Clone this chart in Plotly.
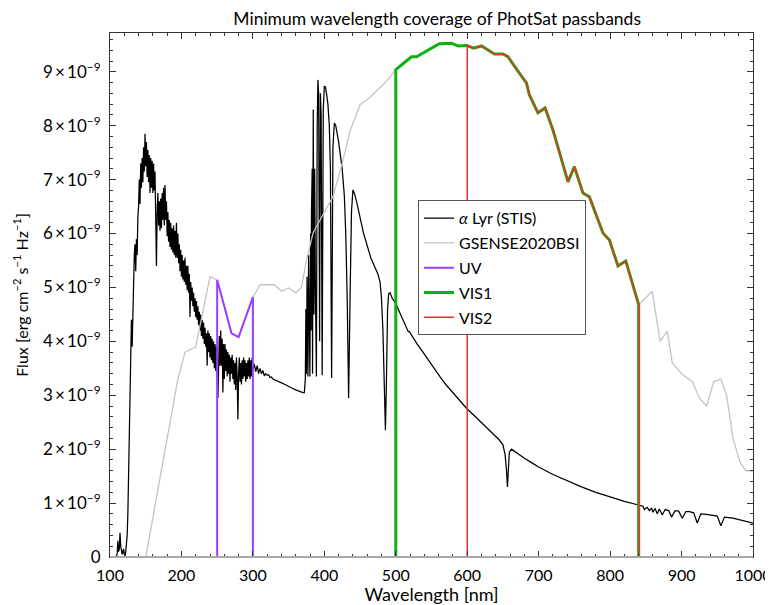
import numpy as np
import plotly.graph_objects as go

# ---------------- data (flux in units of 1e-9 erg cm^-2 s^-1 Hz^-1) ----------------
lyr_wl = [
    108, 110, 111, 112, 113, 114, 115, 116, 117, 118, 119, 120, 121, 122, 123, 124, 125, 126, 127, 128,
    129, 130, 131, 132, 133, 134, 135, 136, 137, 138, 139, 140, 141, 142, 143, 144, 145, 146, 147, 148,
    149, 150, 151, 152, 153, 154, 155, 156, 157, 158, 159, 160, 161, 162, 163, 164, 165, 166, 167, 168,
    169, 170, 171, 172, 173, 174, 175, 176, 177, 178, 179, 180, 181, 182, 183, 184, 185, 186, 187, 188,
    189, 190, 191, 192, 193, 194, 195, 196, 197, 198, 199, 200, 201, 202, 203, 204, 205, 206, 207, 208,
    209, 210, 211, 212, 213, 214, 215, 216, 217, 218, 219, 220, 221, 222, 223, 224, 225, 226, 227, 228,
    229, 230, 231, 232, 233, 234, 235, 236, 237, 238, 239, 240, 241, 242, 243, 244, 245, 246, 247, 248,
    249, 250, 251, 252, 253, 254, 255, 256, 257, 258, 259, 260, 261, 262, 263, 264, 265, 266, 267, 268,
    269, 270, 271, 272, 273, 274, 275, 276, 277, 278, 279, 280, 281, 282, 283, 284, 285, 286, 287, 288,
    289, 290, 291, 292, 293, 294, 295, 296, 297, 298, 299, 300, 302, 304, 306, 308, 310, 312, 314, 316,
    318, 320, 322, 324, 326, 328, 330, 335, 340, 345, 350, 355, 360, 365, 370, 372,
    373.4, 374.2, 375.0, 375.8, 376.5, 377.1, 378.0, 378.8, 379.8, 380.8, 381.5, 382.0, 383.0, 383.5, 384.5, 385.5,
    386.5, 387.5, 388.9, 390, 391, 392, 393.4, 394.5, 395.5, 397.0, 398.5, 400, 401.5, 403, 405, 407, 408.5, 410.2,
    412, 414, 416, 420, 425, 428, 430, 432, 434.0, 436, 438, 440, 442, 445, 448, 450, 455, 460, 465,
    470, 475, 478, 480, 482, 484, 485.5, 487, 488.5, 490, 492, 495, 500, 505, 510, 516, 517.5, 519,
    525, 530, 538, 545, 550, 562, 570, 580, 590, 599, 610, 620, 630, 645, 650, 653, 655, 656.3, 657.5,
    659, 662, 670, 680, 690, 700, 720, 740, 760, 780, 800, 820, 841, 846, 848, 852, 855, 858, 860, 863,
    866, 869, 873, 877, 882, 886, 891, 896, 901, 906, 911, 917, 922, 927, 935, 943, 950, 955, 960, 972,
    985, 1000,
]
lyr_flux = [
    0.00, 0.05, 0.30, 0.10, 0.15, 0.45, 0.20, 0.10, 0.05, 0.10, 0.15, 0.05, 0.00, 0.10, 0.20, 0.40, 0.80, 1.50, 2.50, 3.30,
    3.60, 4.40, 3.90, 4.70, 5.00, 5.60, 5.80, 5.30, 5.90, 5.60, 6.30, 6.50, 7.00, 6.55, 7.30, 6.85, 7.40, 6.95, 7.60, 7.15,
    7.85, 7.25, 7.70, 7.05, 7.55, 6.95, 7.45, 6.75, 7.40, 6.85, 7.35, 6.75, 7.30, 6.80, 7.15, 6.50, 5.40, 6.40, 6.75, 6.15,
    6.60, 6.05, 6.65, 6.10, 6.75, 6.25, 6.85, 6.15, 6.90, 6.25, 6.60, 5.95, 6.40, 5.85, 6.25, 5.75, 6.20, 5.70, 6.10, 5.65,
    6.15, 5.60, 6.05, 5.55, 6.20, 5.55, 6.00, 5.45, 5.80, 5.30, 5.70, 5.20, 5.60, 5.15, 5.50, 5.10, 5.55, 5.05, 5.40, 4.95,
    5.40, 4.90, 5.25, 4.45, 5.10, 4.75, 5.00, 4.65, 4.90, 4.55, 4.80, 4.45, 4.75, 4.40, 4.65, 4.30, 4.55, 4.20, 4.50, 4.10,
    4.40, 4.05, 4.35, 3.95, 4.25, 3.90, 4.15, 3.55, 4.20, 3.80, 4.15, 3.70, 4.10, 3.65, 4.05, 3.60, 4.00, 3.50, 3.95, 3.45,
    3.90, 3.40, 2.95, 3.50, 4.10, 3.55, 4.20, 3.55, 4.05, 3.05, 3.95, 3.30, 3.95, 3.45, 3.85, 3.35, 3.80, 3.40, 3.75, 3.25,
    3.70, 3.40, 3.75, 3.30, 3.65, 3.20, 3.60, 3.10, 3.70, 3.35, 2.55, 3.40, 3.70, 3.25, 3.60, 3.20, 3.65, 3.30, 3.70, 3.35,
    3.65, 3.25, 3.60, 3.30, 3.65, 3.35, 3.70, 3.30, 3.65, 3.35, 3.70, 3.45, 3.58, 3.44, 3.55, 3.40, 3.50, 3.40, 3.46, 3.36,
    3.40, 3.37, 3.38, 3.33, 3.34, 3.30, 3.29, 3.26, 3.23, 3.20, 3.16, 3.13, 3.10, 3.07, 3.05, 3.05,
    3.30, 4.60, 3.40, 5.20, 3.60, 3.35, 5.60, 3.50, 3.35, 6.00, 4.20, 6.40, 7.20, 3.40, 8.30, 4.50,
    7.20, 5.00, 3.35, 8.00, 8.85, 8.60, 4.00, 8.60, 8.20, 3.37, 8.30, 8.73, 8.72, 8.60, 8.40, 8.00, 7.20, 3.32,
    7.60, 8.05, 8.00, 7.70, 7.20, 6.70, 6.00, 4.80, 2.95, 4.80, 6.40, 6.81, 6.75, 6.60, 6.45, 6.30, 6.00, 5.75, 5.55,
    5.40, 5.25, 5.10, 4.80, 4.20, 3.20, 2.35, 3.30, 4.60, 4.88, 4.90, 4.80, 4.70, 4.55, 4.40, 4.24, 4.18, 4.18,
    4.05, 3.95, 3.80, 3.66, 3.56, 3.34, 3.20, 3.05, 2.90, 2.76, 2.62, 2.49, 2.37, 2.17, 2.08, 1.90, 1.60, 1.30, 1.60,
    1.95, 2.00, 1.92, 1.83, 1.75, 1.67, 1.53, 1.41, 1.30, 1.20, 1.11, 1.03, 0.96, 0.94, 0.88, 0.92, 0.86, 0.91, 0.83, 0.90,
    0.80, 0.89, 0.78, 0.88, 0.86, 0.74, 0.86, 0.85, 0.72, 0.84, 0.84, 0.82, 0.63, 0.80, 0.79, 0.78, 0.76, 0.58, 0.74, 0.72,
    0.68, 0.63,
]

gsense_wl = [150, 175, 195, 205, 220, 240, 250, 260, 270, 280, 290, 300, 310, 330, 340, 350, 360, 368, 375, 384,
             400, 412, 425, 436, 450, 464, 482, 492, 500, 510, 522, 529, 545, 561, 578, 587, 599, 609, 620, 638,
             650, 657, 670, 683, 687, 699, 709, 720, 729, 741, 750, 762, 771, 790, 799, 811, 822, 840, 859, 870,
             880, 887, 900, 915, 925, 935, 945, 955, 963, 972, 982, 990, 1000]
gsense_flux = [0.00, 1.80, 3.30, 3.80, 3.90, 5.20, 5.14, 4.65, 4.15, 4.08, 4.45, 4.82, 5.05, 5.05, 4.93, 4.99, 4.90, 5.00, 5.50, 6.00,
               6.40, 6.68, 7.30, 7.90, 8.39, 8.53, 8.76, 8.90, 9.04, 9.15, 9.28, 9.28, 9.40, 9.52, 9.53, 9.48, 9.49, 9.44, 9.48, 9.33,
               9.33, 9.28, 9.03, 8.79, 8.57, 8.24, 8.33, 7.92, 7.51, 6.96, 7.24, 6.75, 6.68, 6.01, 5.88, 5.40, 5.49, 4.68, 4.93, 4.00,
               4.19, 3.60, 3.40, 3.25, 2.95, 2.80, 3.25, 3.30, 3.00, 2.20, 1.75, 1.60, 1.60]

uv_wl = [250, 250, 260, 270, 280, 290, 300, 300]
uv_flux = [0.00, 5.14, 4.65, 4.15, 4.08, 4.45, 4.82, 0.00]

vis1_wl = [500, 500, 510, 522, 529, 545, 561, 578, 587, 599, 609, 620, 638, 650, 657, 670, 683, 687, 699,
           709, 720, 729, 741, 750, 762, 771, 790, 799, 811, 822, 840, 840]
vis1_flux = [0.00, 9.04, 9.15, 9.28, 9.28, 9.40, 9.52, 9.53, 9.48, 9.49, 9.44, 9.48, 9.33, 9.33, 9.28, 9.03, 8.79, 8.57, 8.24,
             8.33, 7.92, 7.51, 6.96, 7.24, 6.75, 6.68, 6.01, 5.88, 5.40, 5.49, 4.68, 0.00]

vis2_wl = [600, 600, 609, 620, 638, 650, 657, 670, 683, 687, 699, 709, 720, 729, 741, 750, 762, 771, 790,
           799, 811, 822, 840, 840]
vis2_flux = [0.00, 9.49, 9.44, 9.48, 9.33, 9.33, 9.28, 9.03, 8.79, 8.57, 8.24, 8.33, 7.92, 7.51, 6.96, 7.24, 6.75, 6.68, 6.01,
             5.88, 5.40, 5.49, 4.68, 0.00]

x_ticks = [100, 200, 300, 400, 500, 600, 700, 800, 900, 1000]
y_ticks = [0, 1, 2, 3, 4, 5, 6, 7, 8, 9]
y_ticklabels = ["0"] + [f"{v}\u2009\u00d7\u200910<sup>\u22129</sup>" for v in y_ticks[1:]]

SCALE = 1e-9
FONT = "Lato"

fig = go.Figure()
fig.add_trace(go.Scatter(x=lyr_wl, y=np.array(lyr_flux) * SCALE, mode="lines",
                         line=dict(color="black", width=1.25), name="<i>\u03b1</i> Lyr (STIS)",
                         legendgroup="a"))
fig.add_trace(go.Scatter(x=gsense_wl, y=np.array(gsense_flux) * SCALE, mode="lines",
                         line=dict(color="#c4c4c4", width=1.3), name="GSENSE2020BSI",
                         legendgroup="b"))
fig.add_trace(go.Scatter(x=uv_wl, y=np.array(uv_flux) * SCALE, mode="lines",
                         line=dict(color="#9b3cff", width=2), name="UV", legendgroup="c"))
fig.add_trace(go.Scatter(x=vis1_wl, y=np.array(vis1_flux) * SCALE, mode="lines",
                         line=dict(color="#11b011", width=3), name="VIS1", legendgroup="d"))
fig.add_trace(go.Scatter(x=vis2_wl, y=np.array(vis2_flux) * SCALE, mode="lines",
                         line=dict(color="#e8322a", width=1.5), name="VIS2", legendgroup="e"))

axis_common = dict(showgrid=False, zeroline=False, showline=True, linecolor="#333333", linewidth=1,
                   mirror="allticks", ticks="inside", ticklen=6, tickcolor="#333333", automargin=False)

# page has an 8px body margin, so the figure is 8px smaller than the window
W, H = 765, 597
fig.update_xaxes(range=[100, 1000], tickmode="array", tickvals=x_ticks,
                 ticktext=[str(v) for v in x_ticks],
                 tickfont=dict(family=FONT, size=16, color="black"), ticklabelstandoff=4,
                 minor=dict(ticks="inside", ticklen=3, dtick=20, tick0=100, tickcolor="#333333"),
                 title=dict(text="Wavelength [nm]", font=dict(family=FONT, size=18, color="black"), standoff=1),
                 **axis_common)
fig.update_yaxes(range=[0, 9.72e-9], tickmode="array", tickvals=[v * SCALE for v in y_ticks],
                 ticktext=y_ticklabels,
                 tickfont=dict(family=FONT, size=17, color="black"), ticklabelstandoff=5,
                 minor=dict(ticks="inside", ticklen=3, dtick=0.2e-9, tick0=0, tickcolor="#333333"),
                 title=dict(text="Flux [erg cm<sup>\u22122</sup> s<sup>\u22121</sup> Hz<sup>\u22121</sup>]",
                            font=dict(family=FONT, size=16, color="black"), standoff=10),
                 **axis_common)

fig.update_layout(
    width=W, height=H,
    margin=dict(l=102, r=20, t=25, b=48),
    paper_bgcolor="white", plot_bgcolor="white",
    title=dict(text="Minimum wavelength coverage of PhotSat passbands", x=0.561, xanchor="center",
               y=0.982, yanchor="middle", font=dict(family=FONT, size=17.5, color="black")),
    showlegend=True,
    legend=dict(x=0.479, y=0.681, xanchor="left", yanchor="top", bgcolor="white",
                bordercolor="#555555", borderwidth=1, font=dict(family=FONT, size=16, color="black"),
                itemwidth=30, tracegroupgap=1, traceorder="grouped"),
    shapes=[dict(type="line", xref="paper", yref="paper", x0=0, x1=1, y0=0, y1=0,
                 line=dict(color="#a8a8a8", width=2), layer="above")],
)

fig.write_html("out.html")
